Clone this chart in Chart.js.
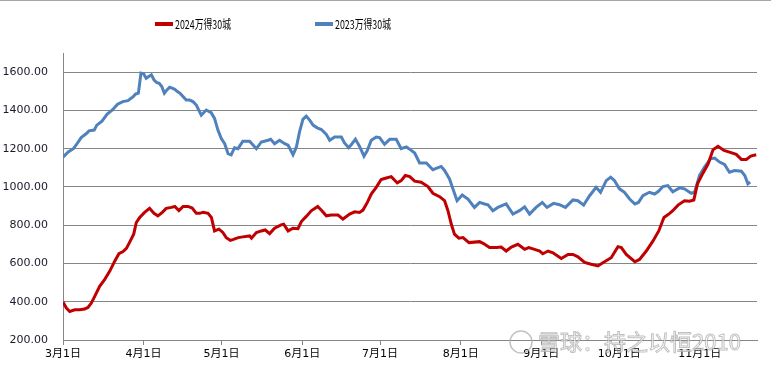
<!DOCTYPE html>
<html>
<head>
<meta charset="utf-8">
<script src="https://cdn.jsdelivr.net/npm/chart.js@4"></script>
<style>
  html, body { margin: 0; padding: 0; background: #fff; }
  #wrap { width: 771px; height: 368px; position: relative; }
</style>
</head>
<body>
<div id="wrap"><canvas id="myChart" width="771" height="368"></canvas></div>
<script>
// days counted from 3月1日
var tickDays = [0, 31, 61, 92, 122, 153, 184, 214, 245];
var tickLabels = ["3月1日", "4月1日", "5月1日", "6月1日", "7月1日", "8月1日", "9月1日", "10月1日", "11月1日"];

var days2024 = [0, 1.3, 2.6, 4.5, 6.4, 8.3, 9.6, 10.9, 12.2, 14.1, 16, 18, 19.9, 21.5, 23.1, 24.4, 25.9, 27.2, 28.2, 29.5,
  31.4, 33.3, 35, 36.5, 38.2, 39.7, 41.7, 43, 44.6, 46.2, 48.1, 49.7, 51.3, 52.6, 53.9, 55.8, 57.1, 58.3, 60, 61.5,
  62.8, 64.4, 65.6, 67.4, 69.2, 71.8, 72.5, 74.4, 76.3, 77.8, 79.5, 81.4, 83.9, 84.9, 86.6, 88.5, 90.4, 91.7, 93.6, 95.5,
  98, 99.6, 101.3, 103.2, 105.8, 107.7, 110.3, 112.2, 114.1, 115.4, 117.1, 118.6, 120.5, 122.4, 124.4, 126.3, 128.6, 130.1, 131.7, 133.4,
  135.3, 137.8, 140.4, 142.3, 144.9, 146.8, 148.1, 149.4, 150.6, 152.3, 153.9, 156.2, 160.3, 161.8, 164.1, 166.7, 168.6, 170.5, 172.5, 175,
  177.6, 179.2, 181.4, 183.4, 184.6, 186.6, 188.5, 191.7, 194.3, 196.2, 198.1, 200.7, 203.2, 205.8, 207.7, 210.9, 213.5, 214.8, 216.7, 220,
  221.8, 224.4, 227, 229.2, 231.2, 233.4, 234.6, 236.6, 239.1, 241, 242.7, 244.1, 246.2, 248.2, 250.1, 252, 254.3, 256.4, 259, 261,
  262.9, 264.6, 266.7];
var values2024 = [398, 367, 349, 358, 358, 362, 370, 393, 428, 481, 516, 560, 612, 651, 662, 679, 718, 753, 814, 840,
  867, 888, 862, 849, 867, 888, 893, 898, 876, 898, 898, 890, 862, 862, 867, 862, 840, 770, 779, 762,
  735, 721, 726, 735, 739, 744, 732, 762, 770, 775, 756, 784, 802, 805, 770, 784, 782, 819, 846, 875,
  898, 876, 849, 853, 853, 832, 858, 870, 867, 879, 919, 963, 998, 1039, 1047, 1054, 1021, 1033, 1060, 1054,
  1030, 1025, 1002, 967, 949, 928, 876, 805, 753, 732, 735, 709, 714, 704, 683, 683, 686, 665, 686, 700,
  674, 683, 674, 665, 651, 665, 656, 626, 647, 647, 635, 606, 596, 587, 604, 630, 688, 683, 647, 609,
  621, 665, 718, 770, 840, 862, 876, 905, 928, 925, 932, 1016, 1072, 1121, 1195, 1212, 1191, 1182, 1170, 1144,
  1144, 1161, 1168];

var days2023 = [0, 2, 4, 5, 7, 9, 10, 12, 13, 15, 17, 19, 21, 23, 25, 27, 28, 29, 30, 31,
  32, 33, 34, 35, 36, 37, 38, 39, 40, 41, 42, 43, 44, 45, 47.4, 48.7, 50, 51.3, 53.2, 55.1,
  57, 58.3, 59.6, 60.9, 62.2, 63.5, 64.7, 66, 67.3, 69.2, 71.8, 74.4, 76.3, 78.9, 79.9, 81.4, 83.3, 85.3, 86.6, 88.5,
  89.8, 91, 92.3, 93.6, 94.9, 96.2, 97.8, 99.4, 101.3, 102.6, 104.5, 107.1, 108.3, 109.9, 111.2, 112.5, 114.1, 115.8, 117.1, 118.6,
  120.5, 121.8, 123.7, 125.7, 128.2, 130.1, 132.1, 134, 135.3, 137.2, 139.8, 142.3, 145.5, 146.8, 148.7, 150, 151.6, 153.6, 155.8, 158.3,
  160.3, 162.2, 163.5, 165.4, 167.3, 170.5, 173.1, 175.6, 177.6, 179.5, 182, 184.4, 186.2, 188.7, 191, 193.3, 196.2, 198.1, 200.3, 202.6,
  205.1, 206.8, 209, 210.7, 212.2, 214.1, 216, 218, 220, 221.4, 223.1, 225.6, 227.6, 229.1, 230.8, 232.7, 234.6, 237.2, 239.1, 241.7,
  243, 244.9, 246.8, 249.1, 250.7, 252.6, 254.5, 256.4, 258.4, 261, 262.3, 263.5, 264.4];
var values2023 = [1156, 1183, 1200, 1218, 1258, 1279, 1293, 1297, 1323, 1344, 1381, 1402, 1432, 1446, 1451, 1472, 1486, 1490, 1595, 1591,
  1568, 1577, 1586, 1560, 1546, 1542, 1525, 1490, 1507, 1521, 1516, 1510, 1498, 1490, 1454, 1454, 1446, 1428, 1375, 1402,
  1388, 1358, 1297, 1253, 1226, 1174, 1168, 1205, 1200, 1239, 1239, 1200, 1235, 1244, 1249, 1226, 1244, 1226, 1218, 1168,
  1209, 1288, 1353, 1370, 1349, 1323, 1309, 1300, 1275, 1244, 1261, 1261, 1230, 1205, 1226, 1249, 1212, 1161, 1191, 1244,
  1261, 1258, 1223, 1249, 1249, 1200, 1209, 1191, 1177, 1125, 1125, 1090, 1107, 1086, 1042, 990, 928, 958, 937, 893,
  919, 911, 907, 876, 893, 911, 858, 876, 896, 858, 893, 919, 893, 914, 907, 893, 932, 928, 905, 954,
  998, 972, 1033, 1051, 1033, 990, 972, 937, 911, 919, 954, 972, 963, 977, 1002, 1007, 975, 995, 990, 967,
  972, 1060, 1104, 1147, 1151, 1130, 1118, 1077, 1086, 1082, 1060, 1016, 1025];

var seriesNames = ["2024万得30城", "2023万得30城"];
var watermark = "雪球：持之以恒2010";

function toPoints(xs, ys) {
    return xs.map(function (x, i) { return { x: x, y: ys[i] }; });
}

var extras = {
    id: 'extras',
    afterDraw: function (chart) {
        var ctx = chart.ctx;
        ctx.save();
        // top frame line
        ctx.fillStyle = '#a6a6a6';
        ctx.fillRect(0, 0, 771, 1);

        // legend
        var items = [{ x: 155 }, { x: 315 }];
        chart.data.datasets.forEach(function (ds, i) {
            var x = items[i].x;
            ctx.strokeStyle = ds.borderColor;
            ctx.lineWidth = 4;
            ctx.beginPath();
            ctx.moveTo(x, 24);
            ctx.lineTo(x + 18, 24);
            ctx.stroke();
            ctx.fillStyle = '#000';
            ctx.font = '12px "Liberation Sans Narrow", "Noto Sans CJK SC", sans-serif';
            ctx.textBaseline = 'middle';
            ctx.textAlign = 'left';
            ctx.fillText(ds.label, x + 20, 24, 56);
        });

        // watermark
        ctx.strokeStyle = 'rgba(170,170,170,0.7)';
        ctx.lineWidth = 1.5;
        ctx.beginPath();
        ctx.arc(521, 342, 11, 0, Math.PI * 2);
        ctx.stroke();
        ctx.font = '22px "Noto Sans CJK SC", sans-serif';
        ctx.textAlign = 'left';
        ctx.textBaseline = 'middle';
        ctx.fillStyle = 'rgba(255,255,255,0.6)';
        ctx.fillText(watermark, 538, 342, 210);
        ctx.lineWidth = 1;
        ctx.strokeStyle = 'rgba(160,160,160,0.65)';
        ctx.strokeText(watermark, 538, 342, 210);
        ctx.restore();
    }
};

var ctx = document.getElementById("myChart").getContext('2d');
var myLineChart = new Chart(ctx, {
    type: 'line',
    data: {
        datasets: [{
            label: seriesNames[0],
            data: toPoints(days2024, values2024),
            borderColor: '#C00000',
            borderWidth: 3,
            pointRadius: 0,
            tension: 0
        }, {
            label: seriesNames[1],
            data: toPoints(days2023, values2023),
            borderColor: '#4F81BD',
            borderWidth: 3,
            pointRadius: 0,
            tension: 0
        }]
    },
    options: {
        responsive: false,
        animation: false,
        layout: { padding: { top: 53, right: 14, left: 0, bottom: 0 } },
        plugins: {
            legend: { display: false },
            tooltip: { enabled: false }
        },
        scales: {
            x: {
                type: 'linear',
                min: 0,
                max: 267,
                afterBuildTicks: function (scale) {
                    scale.ticks = tickDays.map(function (d) { return { value: d }; });
                },
                afterFit: function (scale) { scale.height = 28; },
                grid: { drawOnChartArea: false, drawTicks: true, tickLength: 5, color: '#868686' },
                border: { color: '#868686' },
                ticks: {
                    autoSkip: false,
                    maxRotation: 0,
                    padding: 3,
                    color: '#000',
                    font: { family: '"DejaVu Sans", "Noto Sans CJK SC"', size: 11 },
                    callback: function (v) {
                        var i = tickDays.indexOf(v);
                        return i >= 0 ? tickLabels[i] : null;
                    }
                }
            },
            y: {
                min: 200,
                max: 1700,
                afterFit: function (scale) { scale.width = 63; },
                grid: { color: '#868686', drawTicks: false },
                border: { color: '#868686' },
                ticks: {
                    stepSize: 200,
                    padding: 15,
                    color: '#1a1a2a',
                    font: { family: '"DejaVu Sans"', size: 11 },
                    callback: function (v) {
                        return v > 1600 ? null : v.toFixed(2);
                    }
                }
            }
        }
    },
    plugins: [extras]
});
</script>
</body>
</html>
